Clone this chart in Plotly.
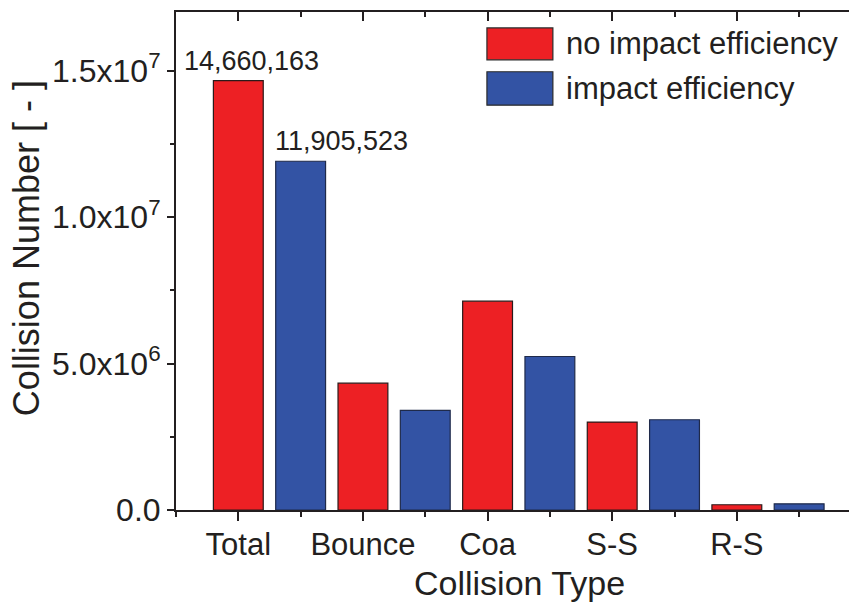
import plotly.graph_objects as go

categories = ["Total", "Bounce", "Coa", "S-S", "R-S"]
no_impact = [14660163, 4330000, 7130000, 3000000, 180000]
impact = [11905523, 3400000, 5240000, 3080000, 210000]
series_names = ["no impact efficiency", "impact efficiency"]
y_tickvals = [0, 5e6, 1e7, 1.5e7]
y_ticktext = ["0.0", "5.0x10<sup>6</sup>", "1.0x10<sup>7</sup>", "1.5x10<sup>7</sup>"]
total_labels = ["14,660,163", "11,905,523"]

RED = "#ED2024"
BLUE = "#3353A4"
AXIS = "#231F20"
FONT = "Arial, Liberation Sans, sans-serif"

idx = list(range(len(categories)))
x_red = [i for i in idx]
x_blue = [i + 0.5 for i in idx]

fig = go.Figure()
fig.add_trace(go.Bar(x=x_red, y=no_impact, width=0.4, name=series_names[0],
                     marker=dict(color=RED, line=dict(color="#2a1a1a", width=1.2)),
                     showlegend=False))
fig.add_trace(go.Bar(x=x_blue, y=impact, width=0.4, name=series_names[1],
                     marker=dict(color=BLUE, line=dict(color="#1f2a4a", width=1.2)),
                     showlegend=False))
fig.add_trace(go.Scatter(x=[None], y=[None], xaxis="x2", showlegend=False, hoverinfo="skip"))

xr = [-0.5, 4.9]
fig.update_layout(
    width=849, height=609,
    margin=dict(l=176, r=0, t=12, b=99),
    paper_bgcolor="white", plot_bgcolor="white",
    barmode="overlay",
    font=dict(family=FONT, color="#231F20"),
    xaxis=dict(range=xr, tickvals=idx, ticktext=categories, ticks="outside",
               ticklen=9, tickwidth=2, tickcolor=AXIS, showline=True, linewidth=2,
               linecolor=AXIS, showgrid=False, zeroline=False,
               tickfont=dict(size=31, family=FONT), ticklabelstandoff=-3,
               minor=dict(dtick=0.5, tick0=0, ticks="outside", ticklen=5,
                          tickwidth=2, tickcolor=AXIS, showgrid=False)),
    xaxis2=dict(range=xr, overlaying="x", side="top", anchor="y", dtick=1, tick0=0,
                ticks="inside", ticklen=9, tickwidth=2, tickcolor=AXIS,
                showline=True, linewidth=2, linecolor=AXIS, showgrid=False,
                zeroline=False, showticklabels=False,
                minor=dict(dtick=0.5, tick0=0, ticks="inside", ticklen=5,
                           tickwidth=2, tickcolor=AXIS, showgrid=False)),
    yaxis=dict(range=[0, 1.7e7], tickvals=y_tickvals, ticktext=y_ticktext,
               ticks="outside", ticklen=7, tickwidth=2, tickcolor=AXIS,
               showline=True, linewidth=2, linecolor=AXIS, showgrid=False,
               zeroline=False, tickfont=dict(size=32, family=FONT),
               minor=dict(dtick=2.5e6, tick0=0, ticks="outside", ticklen=4,
                          tickwidth=2, tickcolor=AXIS, showgrid=False)),
)

# axis titles
fig.add_annotation(text="Collision Type", xref="paper", yref="paper", x=0.51, y=-0.147,
                   showarrow=False, font=dict(size=34, family=FONT), xanchor="center", yanchor="middle")
fig.add_annotation(text="Collision Number [ - ]", xref="paper", yref="paper", x=-0.222, y=0.525,
                   showarrow=False, textangle=-90, font=dict(size=36, family=FONT),
                   xanchor="center", yanchor="middle")

# value labels on Total bars
fig.add_annotation(text=total_labels[0], x=x_red[0], y=no_impact[0], xref="x", yref="y",
                   showarrow=False, xanchor="center", yanchor="bottom", xshift=13, yshift=3,
                   font=dict(size=27, family=FONT))
fig.add_annotation(text=total_labels[1], x=x_blue[0], y=impact[0], xref="x", yref="y",
                   showarrow=False, xanchor="center", yanchor="bottom", xshift=41, yshift=3,
                   font=dict(size=27, family=FONT))

# custom legend
legend_items = [(series_names[0], RED, 0.968, 0.904), (series_names[1], BLUE, 0.880, 0.813)]
for name, col, ytop, ybot in legend_items:
    fig.add_shape(type="rect", xref="paper", yref="paper", x0=0.462, x1=0.560, y0=ybot, y1=ytop,
                  fillcolor=col, line=dict(color="#2a2a2a", width=1.2))
    fig.add_annotation(text=name, xref="paper", yref="paper", x=0.576, y=(ytop + ybot) / 2,
                       showarrow=False, xanchor="left", yanchor="middle",
                       font=dict(size=31, family=FONT))

fig.write_html("out.html")
